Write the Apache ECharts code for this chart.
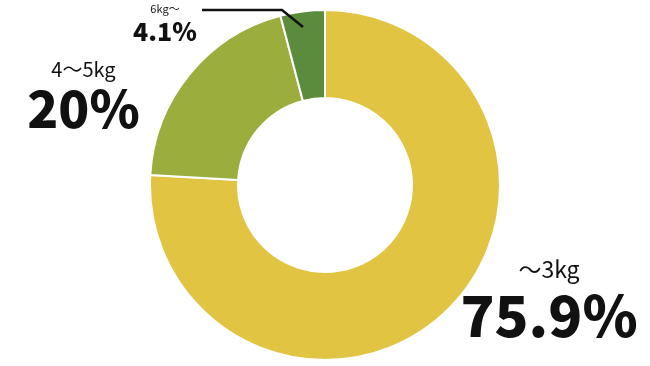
<!DOCTYPE html>
<html><head><meta charset="utf-8">
<script src="https://cdn.jsdelivr.net/npm/echarts@6/dist/echarts.min.js"></script>
<style>html,body{margin:0;padding:0;background:#fff}#c{width:650px;height:366px}</style>
</head><body><div id="c"></div>
<script>
const categories = ['～3kg', '4～5kg', '6kg～'];
const values = [75.9, 20, 4.1];
const colors = ['#E2C443', '#9BAD3D', '#5B8B3C'];

// label placement: [center x, name center y, value center y] and font sizes
const labelPos = [[549, 269, 316], [83.5, 69, 108.5], [165, 9, 31]];
const nameSize = [23, 20, 11];
const valueSize = [56, 51, 25];

const FONT = '"Noto Sans CJK JP", "Noto Sans", sans-serif';
const chart = echarts.init(document.getElementById('c'));

const graphics = [];
values.forEach((v, i) => {
  graphics.push({
    type: 'text', silent: true, z: 100,
    style: {
      text: categories[i], x: labelPos[i][0], y: labelPos[i][1],
      textAlign: 'center', textVerticalAlign: 'middle',
      font: 'normal ' + nameSize[i] + 'px ' + FONT, fill: '#111'
    }
  });
  graphics.push({
    type: 'text', silent: true, z: 100,
    style: {
      text: v + '%', x: labelPos[i][0], y: labelPos[i][2],
      textAlign: 'center', textVerticalAlign: 'middle',
      font: '900 ' + valueSize[i] + 'px ' + FONT, fill: '#111'
    }
  });
});
graphics.push({
  type: 'polyline', silent: true, z: 100,
  shape: { points: [[202, 10], [282, 10], [303, 27]] },
  style: { stroke: '#111', lineWidth: 2.5, fill: null }
});

chart.setOption({
  animation: false,
  series: [{
    type: 'pie',
    center: [325, 185],
    radius: [87, 175],
    startAngle: 90,
    clockwise: true,
    itemStyle: { borderColor: '#fff', borderWidth: 2 },
    label: { show: false },
    labelLine: { show: false },
    data: values.map((v, i) => ({
      name: categories[i],
      value: v,
      itemStyle: { color: colors[i] }
    }))
  }],
  graphic: graphics
});
</script></body></html>
